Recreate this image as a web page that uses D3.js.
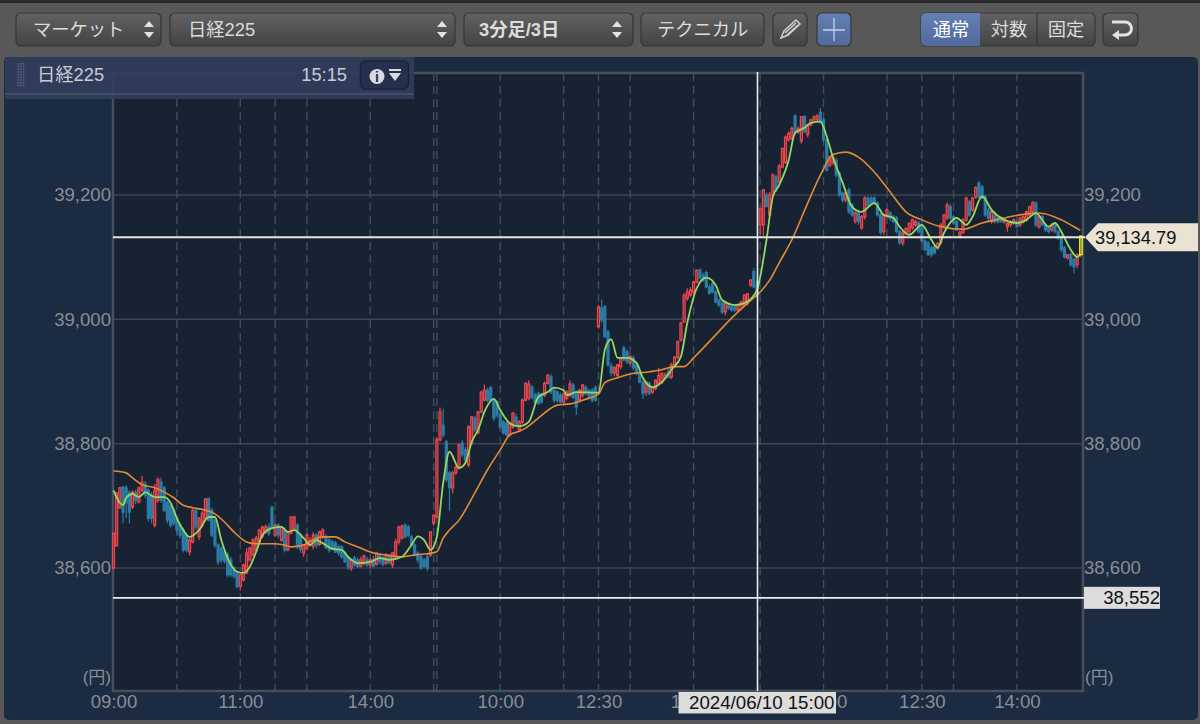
<!DOCTYPE html>
<html>
<head>
<meta charset="utf-8">
<script src="https://cdn.jsdelivr.net/npm/d3@7"></script>
<style>
  html, body { margin: 0; padding: 0; background: #585858; overflow: hidden; }
  svg { display: block; }
  text { font-family: "Liberation Sans", "Noto Sans CJK JP", sans-serif; }
</style>
</head>
<body>
<svg id="chart" width="1200" height="724"></svg>
<script>
/* ================================
   DATA  (open, high, low, close)
================================ */
const day1Candles = [
  [38600,38656,38598,38656],[38636,38722,38634,38721],[38697,38730,38695,38729],[38730,38732,38672,38690],
  [38729,38733,38680,38705],[38721,38725,38672,38690],[38698,38725,38695,38722],[38722,38726,38703,38709],
  [38706,38731,38704,38729],[38725,38748,38722,38738],[38735,38740,38712,38717],[38725,38728,38675,38680],
  [38717,38722,38672,38680],[38669,38735,38665,38725],[38709,38746,38705,38742],[38738,38745,38705,38709],
  [38729,38732,38690,38693],[38705,38708,38672,38677],[38701,38705,38665,38669],[38693,38697,38668,38672],
  [38680,38684,38655,38661],[38669,38672,38648,38653],[38661,38665,38625,38629],[38653,38656,38625,38629],
  [38626,38648,38620,38645],[38642,38695,38640,38693],[38692,38695,38662,38666],[38650,38682,38645,38680],
  [38669,38692,38665,38688],[38680,38712,38678,38711],[38712,38713,38675,38677],[38693,38697,38650,38653],
  [38677,38680,38632,38637],[38637,38640,38605,38610],[38632,38635,38608,38613],[38626,38630,38607,38611],
  [38621,38625,38585,38589],[38613,38618,38585,38589],[38600,38603,38583,38587],[38592,38596,38567,38570],
  [38571,38590,38564,38589],[38581,38607,38578,38605],[38592,38632,38590,38624],[38613,38634,38610,38632],
  [38621,38648,38618,38645],[38629,38652,38626,38648],[38642,38663,38640,38661],[38651,38668,38648,38666],
  [38658,38670,38655,38666],[38666,38672,38652,38656],[38698,38699,38662,38665],[38653,38672,38650,38669],
  [38669,38672,38648,38653],[38645,38668,38642,38666],[38661,38665,38625,38629],[38629,38660,38627,38658],
  [38656,38683,38654,38682],[38664,38684,38660,38682],[38669,38672,38630,38636],[38653,38656,38625,38630],
  [38624,38638,38618,38637],[38632,38655,38628,38653],[38637,38650,38634,38645],[38635,38658,38630,38653],
  [38653,38656,38632,38637],[38638,38660,38635,38658],[38650,38664,38647,38661],[38650,38654,38630,38633],
  [38645,38648,38625,38629],[38642,38646,38628,38630],[38640,38644,38624,38626],[38634,38638,38620,38624],
  [38634,38637,38615,38618],[38624,38627,38608,38610],[38618,38620,38597,38602],[38600,38615,38595,38613],
  [38616,38620,38602,38605],[38613,38617,38600,38603],[38603,38618,38601,38613],[38608,38622,38604,38619],
  [38613,38618,38602,38605],[38605,38616,38600,38613],[38614,38620,38601,38603],[38606,38626,38604,38624],
  [38621,38624,38606,38610],[38616,38620,38603,38606],[38608,38624,38605,38621],[38619,38622,38606,38608],
  [38605,38626,38600,38624],[38618,38647,38614,38642],[38642,38668,38638,38666],[38648,38670,38646,38667],
  [38669,38672,38648,38650],[38666,38669,38650,38653],[38650,38653,38635,38637],[38637,38640,38618,38621],
  [38624,38627,38608,38613],[38618,38620,38597,38600],[38613,38616,38600,38603],[38618,38622,38595,38600],
  [38621,38659,38618,38658],[38672,38686,38668,38685]
];

const day2Candles = [
  [38682,38810,38680,38806],[38806,38858,38804,38851],[38830,38856,38810,38814],[38803,38806,38738,38742],
  [38753,38756,38692,38729],[38729,38756,38720,38753],[38753,38765,38750,38762],[38761,38800,38758,38798],
  [38801,38806,38778,38782],[38790,38795,38770,38774],[38766,38830,38762,38827],[38801,38845,38798,38843],
  [38841,38845,38818,38822],[38817,38853,38815,38851],[38851,38885,38849,38883],[38870,38895,38868,38886],
  [38886,38890,38866,38870],[38890,38893,38866,38870],[38870,38873,38836,38841],[38867,38870,38842,38846],
  [38846,38850,38823,38827],[38835,38838,38815,38817],[38833,38836,38812,38814],[38814,38835,38811,38832],
  [38827,38851,38824,38849],[38843,38848,38826,38829],[38822,38838,38819,38835],[38835,38873,38832,38870],
  [38870,38899,38868,38897],[38873,38902,38870,38896],[38891,38894,38871,38875],[38878,38882,38865,38867],
  [38881,38884,38862,38865],[38878,38882,38864,38867],[38878,38900,38875,38897],[38897,38912,38895,38910],
  [38907,38912,38880,38883],[38886,38889,38866,38870],[38883,38886,38866,38870],[38878,38882,38865,38867],
  [38867,38882,38862,38880],[38873,38886,38870,38883],[38878,38902,38875,38896],[38894,38898,38872,38875],
  [38883,38886,38846,38859],[38870,38888,38866,38886],[38878,38896,38874,38894],[38890,38894,38878,38881],
  [38885,38888,38872,38875],[38886,38889,38866,38870],[38890,38894,38868,38870],[38988,39023,38985,39020],
  [39018,39032,38995,38999],[39020,39023,38970,38972],[38980,38983,38924,38927],[38925,38930,38908,38914],
  [38914,38925,38908,38922],[38910,38928,38906,38927],[38924,38940,38920,38938],[38954,38958,38932,38935],
  [38948,38952,38928,38932],[38930,38943,38927,38940],[38938,38942,38918,38922],[38927,38930,38910,38914],
  [38915,38918,38897,38899],[38899,38902,38872,38881],[38883,38900,38877,38899],[38897,38900,38878,38881],
  [38883,38893,38880,38891],[38889,38903,38886,38902],[38897,38922,38894,38910],[38899,38915,38896,38913],
  [38906,38914,38903,38910],[38915,38920,38905,38907],[38907,38930,38904,38927],[38927,38941,38924,38939],
  [38939,38966,38936,38964],[38967,38996,38964,38994],[38996,39042,38994,39039],[39034,39050,39030,39044],
  [39039,39052,39036,39047],[39044,39062,39040,39060],[39060,39080,39058,39079],[39079,39082,39064,39067],
  [39071,39075,39060,39063],[39075,39078,39050,39052],[39052,39056,39040,39042],[39058,39061,39042,39044],
  [39044,39048,39026,39028],[39031,39034,39020,39023],[39026,39029,39008,39012],[39012,39030,39006,39028],
  [39023,39027,39015,39018],[39020,39024,39012,39015],[39020,39023,39012,39015],[39015,39025,39012,39023],
  [39023,39030,39018,39028],[39023,39040,39020,39039],[39026,39042,39022,39041],[39055,39065,39052,39063],
  [39077,39082,39050,39052],[39060,39063,39035,39039]
];

const day3Candles = [
  [39152,39180,39136,39178],[39152,39210,39135,39208],[39200,39204,39180,39182],[39168,39205,39165,39200],
  [39200,39235,39198,39232],[39229,39232,39205,39208],[39221,39250,39218,39246],[39245,39276,39243,39275],
  [39252,39296,39250,39293],[39289,39302,39286,39299],[39291,39310,39288,39307],[39327,39330,39296,39300],
  [39301,39310,39298,39307],[39287,39327,39283,39326],[39326,39329,39300,39302],[39297,39315,39293,39313],
  [39313,39322,39310,39321],[39321,39328,39318,39326],[39321,39330,39318,39327],[39333,39340,39315,39318],
  [39321,39325,39285,39289],[39289,39292,39238,39240],[39248,39263,39245,39261],[39252,39263,39248,39260],
  [39256,39260,39228,39232],[39235,39238,39197,39200],[39203,39206,39188,39192],[39192,39205,39188,39203],
  [39208,39212,39170,39173],[39184,39187,39165,39168],[39158,39174,39154,39171],[39171,39175,39152,39157],
  [39147,39168,39144,39165],[39165,39198,39160,39195],[39195,39198,39180,39183],[39195,39198,39183,39187],
  [39195,39198,39184,39187],[39187,39190,39165,39168],[39168,39171,39136,39140],[39141,39170,39136,39168],
  [39168,39178,39164,39176],[39171,39174,39158,39163],[39165,39168,39155,39157],[39163,39166,39138,39141],
  [39141,39144,39120,39123],[39123,39142,39118,39139],[39139,39148,39136,39146],[39141,39156,39138,39154],
  [39147,39162,39144,39160],[39152,39160,39149,39157],[39155,39158,39138,39141],[39149,39152,39124,39126],
  [39126,39129,39110,39112],[39123,39126,39102,39104],[39115,39118,39100,39104],[39117,39120,39104,39107],
  [39115,39124,39112,39122],[39124,39155,39120,39152],[39149,39170,39146,39168],[39163,39188,39160,39184],
  [39181,39185,39160,39163],[39165,39168,39152,39155],[39157,39160,39142,39144],[39133,39143,39130,39140],
  [39140,39162,39137,39160],[39160,39197,39157,39195],[39189,39192,39165,39168],[39176,39197,39173,39195],
  [39197,39214,39194,39212],[39219,39222,39194,39197],[39213,39216,39193,39195],[39197,39200,39165,39168],
  [39175,39179,39158,39163],[39157,39175,39154,39173],[39167,39171,39154,39157],[39163,39166,39154,39157],
  [39163,39166,39155,39157],[39157,39163,39154,39160],[39149,39156,39141,39154],[39152,39159,39148,39157],
  [39155,39162,39152,39160],[39157,39161,39147,39149],[39152,39165,39149,39163],[39157,39167,39154,39165],
  [39160,39175,39157,39173],[39168,39183,39165,39181],[39173,39190,39170,39188],[39187,39190,39149,39152],
  [39149,39167,39146,39165],[39165,39168,39150,39152],[39152,39155,39141,39144],[39147,39150,39138,39141],
  [39144,39155,39141,39152],[39152,39156,39138,39141],[39141,39144,39128,39131],[39133,39136,39108,39112],
  [39115,39118,39098,39100],[39099,39105,39096,39104],[39104,39107,39085,39088],[39096,39099,39074,39085],
  [39088,39106,39082,39104],[39104,39134,39100,39134]
];

// short moving average, read at these bars
const maShortBars = [0,2,3,4,6,8,10,13,16,18,20,22,24,27,30,32,34,36,39,41,43,45,47,50,53,55,57,60,62,64,66,69,72,74,77,81,84,87,91,94,96,98,100,102,104,106,109,111,113,115,117,120,122,125,128,131,134,137,139,142,143,146,153,155,157,159,162,165,167,170,173,176,179,181,184,187,190,192,196,199,203,204,206,208,210,213,215,218,220,223,225,227,230,233,236,240,243,246,248,251,255,258,260,262,266,269,271,274,277,281,285,288,291,295,297,299,302,304,305];
const maShortValues = [38725,38705,38701,38713,38719,38714,38722,38714,38714,38705,38680,38661,38650,38661,38682,38682,38645,38616,38594,38592,38602,38626,38653,38664,38666,38658,38661,38648,38637,38645,38640,38631,38629,38618,38608,38610,38616,38613,38618,38637,38651,38645,38629,38650,38737,38787,38761,38769,38803,38822,38851,38872,38854,38833,38828,38835,38875,38883,38890,38886,38878,38883,38882,38951,38968,38938,38938,38930,38906,38891,38899,38919,38940,38994,39050,39067,39055,39031,39023,39026,39047,39068,39128,39197,39216,39256,39300,39308,39316,39318,39294,39260,39220,39181,39173,39187,39168,39163,39149,39136,39152,39128,39115,39139,39163,39152,39165,39198,39176,39160,39155,39160,39171,39149,39155,39141,39112,39100,39105];

// long moving average, read at these bars
const maLongBars = [0,4,6,9,13,16,19,22,25,29,32,35,38,42,45,50,54,56,60,64,66,70,73,77,82,86,91,95,99,102,104,106,109,114,118,122,125,128,130,134,138,140,144,148,153,155,159,163,168,173,177,180,183,187,195,200,204,207,210,214,219,223,227,231,235,240,245,250,255,261,268,274,281,286,292,299,303,305];
const maLongValues = [38756,38753,38745,38734,38729,38722,38713,38701,38697,38693,38687,38674,38658,38642,38639,38639,38637,38634,38637,38648,38650,38650,38642,38634,38624,38621,38618,38621,38623,38626,38648,38661,38677,38721,38758,38790,38814,38820,38825,38841,38857,38862,38864,38870,38880,38898,38906,38912,38915,38919,38924,38924,38938,38959,39002,39026,39044,39063,39091,39128,39187,39232,39265,39269,39261,39237,39205,39173,39160,39149,39145,39155,39163,39168,39171,39160,39149,39143];

const priceTicks = [38600, 38800, 39000, 39200];
const dateGridBars = [20,40,51,61,81,101,102,122,142,153,163,183,204,224,244,255,265,285];
const timeTickBars = [0,40,81,122,153,183,224,255,285];
const timeTickLabels = ["09:00","11:00","14:00","10:00","12:30","14:00","10:00","12:30","14:00"];

const crossBar = 203;
const crossPrice = 39132;
const crossPriceLabel = "39,134.79";
const crossDateLabel = "2024/06/10 15:00";
const lowPrice = 38552;

const candles = day1Candles.concat(day2Candles, day3Candles)
  .map((d, i) => ({ i, open: d[0], high: d[1], low: d[2], close: d[3] }));
const lastCandle = candles[candles.length - 1];

/* ================================
   SCALES
================================ */
const plot = { left: 113, right: 1083, top: 73, bottom: 691 };

const x = d3.scaleLinear().domain([0, 306]).range([plot.left + 0.5, plot.right + 0.5]);
const y = d3.scaleLinear().domain([38600, 39200]).range([568, 195]);

const svg = d3.select("#chart");

/* ================================
   PANEL + PLOT BACKGROUND
================================ */
svg.append("rect").attr("width", 1200).attr("height", 724).attr("fill", "#585858");
svg.append("rect").attr("width", 1200).attr("height", 3).attr("fill", "#2a2a2a");
svg.append("rect")
  .attr("x", 4).attr("y", 57).attr("width", 1194).attr("height", 663).attr("rx", 5)
  .attr("fill", "#1b2b42");
svg.append("rect")
  .attr("x", plot.left).attr("y", plot.top)
  .attr("width", plot.right - plot.left).attr("height", plot.bottom - plot.top)
  .attr("fill", "#172333");

/* ================================
   GRID
================================ */
svg.append("g").selectAll("line").data(priceTicks).join("line")
  .attr("x1", plot.left).attr("x2", plot.right)
  .attr("y1", d => y(d)).attr("y2", d => y(d))
  .attr("stroke", "#3d4553").attr("stroke-width", 1.5);

svg.append("g").selectAll("line").data(dateGridBars).join("line")
  .attr("x1", d => x(d)).attr("x2", d => x(d))
  .attr("y1", plot.top).attr("y2", plot.bottom)
  .attr("stroke", "#444c5a").attr("stroke-width", 1.4)
  .attr("stroke-dasharray", "8,5");

svg.append("rect")
  .attr("x", plot.left).attr("y", plot.top)
  .attr("width", plot.right - plot.left).attr("height", plot.bottom - plot.top)
  .attr("fill", "none").attr("stroke", "#474f5d").attr("stroke-width", 2.5);

/* ================================
   AXES
================================ */
function styleAxis(g) {
  g.select(".domain").remove();
  g.selectAll("text").attr("fill", "#898e95").style("font-size", "18.6px");
}

svg.append("g").attr("transform", `translate(${plot.left - 2},0)`)
  .call(d3.axisLeft(y).tickValues(priceTicks).tickFormat(d3.format(",")).tickSize(0).tickPadding(0))
  .call(styleAxis);

svg.append("g").attr("transform", `translate(${plot.right + 1},0)`)
  .call(d3.axisRight(y).tickValues(priceTicks).tickFormat(d3.format(",")).tickSize(0).tickPadding(0))
  .call(styleAxis);

svg.append("g").attr("transform", `translate(0,${plot.bottom + 4})`)
  .call(d3.axisBottom(x).tickValues(timeTickBars).tickFormat((d, i) => timeTickLabels[i]).tickSize(0).tickPadding(0))
  .call(styleAxis);

svg.append("text").attr("x", 111).attr("y", 683).attr("text-anchor", "end")
  .attr("fill", "#898e95").style("font-size", "17px").text("(円)");
svg.append("text").attr("x", 1085).attr("y", 683)
  .attr("fill", "#898e95").style("font-size", "17px").text("(円)");

/* ================================
   CANDLES
================================ */
const candleG = svg.append("g");

candleG.selectAll("line").data(candles).join("line")
  .attr("x1", d => x(d.i)).attr("x2", d => x(d.i))
  .attr("y1", d => y(d.high)).attr("y2", d => y(d.low))
  .attr("stroke", d => d.close >= d.open ? "#f0474f" : "#2c7ca6")
  .attr("stroke-width", 1.2);

candleG.selectAll("rect").data(candles.slice(0, -1)).join("rect")
  .attr("x", d => x(d.i) - 1)
  .attr("width", 2)
  .attr("y", d => y(Math.max(d.open, d.close)))
  .attr("height", d => Math.max(0.8, Math.abs(y(d.open) - y(d.close))))
  .attr("fill", d => d.close >= d.open ? "#6b3038" : "#2c7ca6")
  .attr("stroke", d => d.close >= d.open ? "#f0474f" : "#2c7ca6")
  .attr("stroke-width", 1.2);

/* ================================
   MOVING AVERAGES
================================ */
const maLine = d3.line()
  .x(d => x(d[0]))
  .y(d => y(d[1]))
  .curve(d3.curveMonotoneX);

svg.append("path")
  .attr("d", maLine(d3.zip(maLongBars, maLongValues)))
  .attr("fill", "none").attr("stroke", "#e38a35").attr("stroke-width", 1.6);

svg.append("path")
  .attr("d", maLine(d3.zip(maShortBars, maShortValues)))
  .attr("fill", "none").attr("stroke", "#94d95f").attr("stroke-width", 1.8);

// latest bar is drawn over the averages, in yellow
svg.append("rect")
  .attr("x", x(lastCandle.i) - 0.6)
  .attr("width", 2.4)
  .attr("y", y(lastCandle.close))
  .attr("height", y(lastCandle.open) - y(lastCandle.close))
  .attr("fill", "#6b6a20")
  .attr("stroke", "#f2ee1e")
  .attr("stroke-width", 1.3);

/* ================================
   CROSSHAIR + LOW LINE
================================ */
svg.append("line")
  .attr("x1", plot.left).attr("x2", plot.right + 2)
  .attr("y1", y(crossPrice)).attr("y2", y(crossPrice))
  .attr("stroke", "#ece4d6").attr("stroke-width", 1.8);

svg.append("line")
  .attr("x1", plot.left).attr("x2", plot.right + 2)
  .attr("y1", y(lowPrice)).attr("y2", y(lowPrice))
  .attr("stroke", "#e8ecf0").attr("stroke-width", 1.8);

svg.append("line")
  .attr("x1", x(crossBar) + 0.5).attr("x2", x(crossBar) + 0.5)
  .attr("y1", plot.top - 1).attr("y2", plot.bottom)
  .attr("stroke", "#e8ecf0").attr("stroke-width", 1.6);

// price flag
const flagY = y(crossPrice);
svg.append("path")
  .attr("d", `M1085,${flagY} L1098,${flagY - 14} H1198 V${flagY + 14} H1098 Z`)
  .attr("fill", "#ece2d3");
svg.append("text").attr("x", 1095).attr("y", flagY + 6.5)
  .attr("fill", "#111").style("font-size", "18.3px").text(crossPriceLabel);

// low label
svg.append("rect")
  .attr("x", 1084).attr("y", y(lowPrice) - 11).attr("width", 76).attr("height", 22)
  .attr("fill", "#dcdcdc");
svg.append("text").attr("x", 1160).attr("y", y(lowPrice) + 6).attr("text-anchor", "end")
  .attr("fill", "#111").style("font-size", "18.6px").text(d3.format(",")(lowPrice));

// date label
svg.append("rect")
  .attr("x", 678.5).attr("y", 692).attr("width", 157.5).attr("height", 21.5)
  .attr("fill", "#dcdcdc");
svg.append("text").attr("x", 689).attr("y", 708.5)
  .attr("fill", "#111").style("font-size", "18.7px").text(crossDateLabel);

/* ================================
   INFO HEADER
================================ */
svg.append("rect")
  .attr("x", 5).attr("y", 57).attr("width", 409).attr("height", 42)
  .attr("fill", "#2f3d5c").attr("fill-opacity", 0.93);
svg.append("line")
  .attr("x1", 5).attr("x2", 414).attr("y1", 94).attr("y2", 94)
  .attr("stroke", "#4a5368").attr("stroke-width", 1.5);

const gripG = svg.append("g");
d3.range(9).forEach(r => d3.range(3).forEach(c => {
  gripG.append("rect")
    .attr("x", 17.5 + c * 2.6).attr("y", 63 + r * 2.7)
    .attr("width", 1.6).attr("height", 1.6)
    .attr("fill", "#59637b");
}));

svg.append("text").attr("x", 37).attr("y", 81).attr("fill", "#c9ccd3")
  .style("font-size", "18.3px").text("日経225");
svg.append("text").attr("x", 347).attr("y", 81).attr("fill", "#c9ccd3").attr("text-anchor", "end")
  .style("font-size", "18.3px").text("15:15");

svg.append("rect")
  .attr("x", 360.5).attr("y", 61).attr("width", 48).attr("height", 28).attr("rx", 5)
  .attr("fill", "#25304f").attr("stroke", "#1d2336").attr("stroke-width", 1.5);
svg.append("circle").attr("cx", 377).attr("cy", 76.5).attr("r", 7.5).attr("fill", "#d8dbe0");
svg.append("text").attr("x", 377).attr("y", 81.5).attr("text-anchor", "middle")
  .attr("fill", "#25304f").style("font-size", "14px").style("font-weight", "bold").text("i");
svg.append("rect").attr("x", 389).attr("y", 69).attr("width", 12).attr("height", 2).attr("fill", "#d8dbe0");
svg.append("path").attr("d", "M389,73 H401 L395,81 Z").attr("fill", "#d8dbe0");

/* ================================
   TOOLBAR
================================ */
const defs = svg.append("defs");
const grad = defs.append("linearGradient").attr("id", "btn").attr("x1", 0).attr("x2", 0).attr("y1", 0).attr("y2", 1);
grad.append("stop").attr("offset", "0%").attr("stop-color", "#626262");
grad.append("stop").attr("offset", "100%").attr("stop-color", "#434343");

const blueGrad = defs.append("linearGradient").attr("id", "btnBlue").attr("x1", 0).attr("x2", 0).attr("y1", 0).attr("y2", 1);
blueGrad.append("stop").attr("offset", "0%").attr("stop-color", "#6480b4");
blueGrad.append("stop").attr("offset", "100%").attr("stop-color", "#51699c");

const barG = svg.append("g");

function button(x0, x1, fill) {
  barG.append("rect")
    .attr("x", x0).attr("y", 13).attr("width", x1 - x0).attr("height", 33).attr("rx", 5)
    .attr("fill", fill || "url(#btn)").attr("stroke", "#363636").attr("stroke-width", 1.2);
}

function label(txt, px, anchor, weight, color) {
  barG.append("text").attr("x", px).attr("y", 36)
    .attr("text-anchor", anchor || "start")
    .attr("fill", color || "#dcdcdc")
    .style("font-size", "18.3px")
    .style("font-weight", weight || "normal")
    .text(txt);
}

function spinner(cx) {
  barG.append("path")
    .attr("d", `M${cx - 5},27 L${cx},21 L${cx + 5},27 Z M${cx - 5},32 L${cx},38 L${cx + 5},32 Z`)
    .attr("fill", "#e2e2e2");
}

button(16, 161); label("マーケット", 33); spinner(149);
button(170, 455); label("日経225", 188); spinner(442);
button(464, 633); label("3分足/3日", 479, "start", "bold"); spinner(617);
button(641, 764); label("テクニカル", 657);
button(773, 807);
barG.append("path")
  .attr("d", "M781,38 L784,31 L796,20 L800,24 L788,35 Z M785,33 L796,23 M787,35 L798,25")
  .attr("fill", "none").attr("stroke", "#cfcfcf").attr("stroke-width", 1.5);

button(817, 851, "url(#btnBlue)");
barG.append("path").attr("d", "M823,30 H845 M834,18 V41")
  .attr("stroke", "#c6d2e6").attr("stroke-width", 1.3);

button(921, 1095);
barG.append("path")
  .attr("d", "M980,13 H926 a5,5 0 0 0 -5,5 V41 a5,5 0 0 0 5,5 H980 Z")
  .attr("fill", "url(#btnBlue)");
barG.append("line").attr("x1", 1037).attr("x2", 1037).attr("y1", 13).attr("y2", 46).attr("stroke", "#363636").attr("stroke-width", 1.2);
label("通常", 951, "middle", "normal", "#fff");
label("対数", 1009, "middle");
label("固定", 1066, "middle");

button(1103, 1138);
barG.append("path")
  .attr("d", "M1112,22 H1125 a6,6 0 0 1 0,13 H1118")
  .attr("fill", "none").attr("stroke", "#e2e2e2").attr("stroke-width", 3);
barG.append("path").attr("d", "M1112,35 L1119,30 V40 Z").attr("fill", "#e2e2e2");
</script>
</body>
</html>
